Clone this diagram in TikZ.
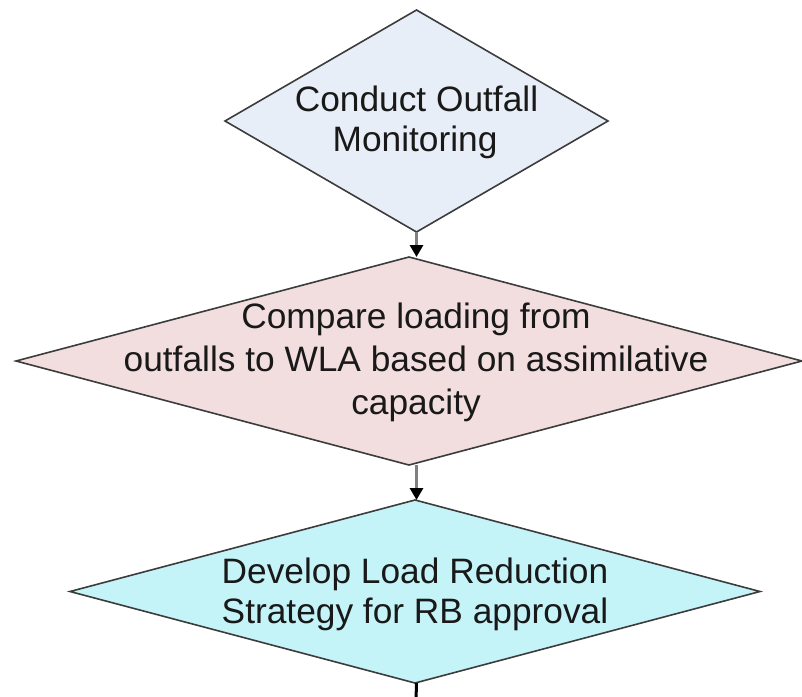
\documentclass[tikz,border=0pt]{standalone}
\usepackage{fontspec}
\setmainfont{Liberation Sans}
\usetikzlibrary{shapes.geometric,arrows.meta}
\definecolor{topfill}{RGB}{232,238,248}
\definecolor{midfill}{RGB}{242,222,222}
\definecolor{botfill}{RGB}{196,244,248}
\definecolor{edgecol}{RGB}{60,60,60}
\tikzset{
  dbox/.style={diamond, draw=edgecol, line width=1.6pt, inner sep=0pt, outer sep=0pt},
  txt/.style={anchor=base, inner sep=0pt, font=\fontsize{35.3}{40}\selectfont, text=black!90},
  flow/.style={draw=black!50, line width=3pt, -{Triangle[length=12pt,width=13pt,fill=black,color=black]}},
}
\begin{document}
\begin{tikzpicture}[x=1pt,y=-1pt]
\useasboundingbox (0,0) rectangle (802,696);
\node[dbox, fill=topfill, minimum width=383pt, minimum height=222pt] (d1) at (416.5,121) {};
\node[dbox, fill=midfill, minimum width=786pt, minimum height=208pt] (d2) at (409,361) {};
\node[dbox, fill=botfill, minimum width=690pt, minimum height=183pt] (d3) at (415,591.5) {};
\coordinate (tail) at (416,700);
\node[txt] (t1a) at (416.5,111) {Conduct Outfall};
\node[txt] (t1b) at (415,151) {Monitoring};
\node[txt] (t2a) at (416,328) {Compare loading from};
\node[txt] (t2b) at (416,371) {outfalls to WLA based on assimilative};
\node[txt] (t2c) at (416,414) {capacity};
\node[txt] (t3a) at (415,583) {Develop Load Reduction};
\node[txt] (t3b) at (415,623) {Strategy for RB approval};
\draw[flow] (d1.south) -- (d1.south |- d2.north);
\draw[flow] (d1.south |- d2.south) -- (d1.south |- d3.north);
\draw[black, line width=3pt] (d1.south |- d3.south) -- (tail);
\end{tikzpicture}
\end{document}
